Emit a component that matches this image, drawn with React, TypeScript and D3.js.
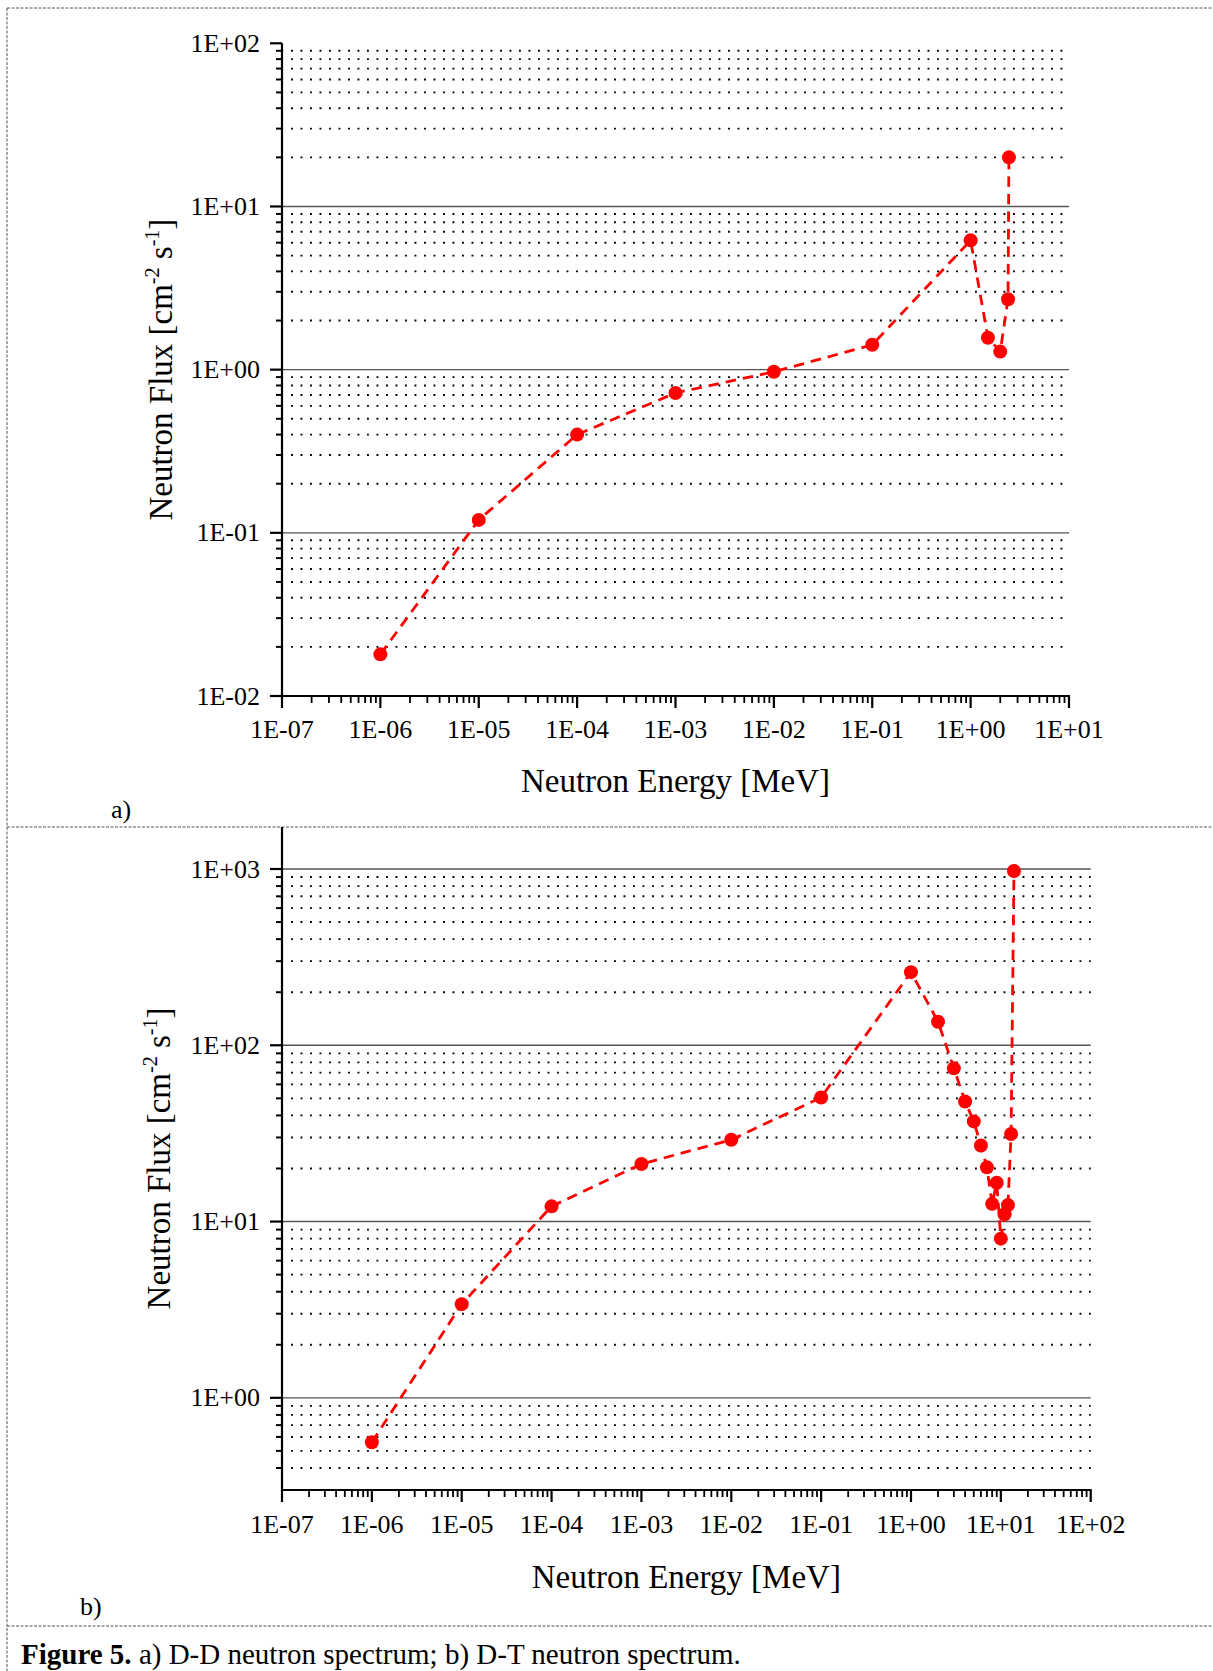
import React from "react";
import * as d3 from "d3";

// a) D-D spectrum
const ddEnergy = [1e-6, 1e-5, 1e-4, 1e-3, 1e-2, 0.1, 1, 1.5, 2, 2.4, 2.45];
const ddFlux = [0.018, 0.12, 0.4, 0.72, 0.97, 1.42, 6.2, 1.57, 1.29, 2.7, 20];
const ddXTicks = ["1E-07", "1E-06", "1E-05", "1E-04", "1E-03", "1E-02", "1E-01", "1E+00", "1E+01"];
const ddYTicks = ["1E-02", "1E-01", "1E+00", "1E+01", "1E+02"];
const ddYDomain = [0.01, 100];

// b) D-T spectrum
const dtEnergy = [1e-6, 1e-5, 1e-4, 1e-3, 1e-2, 0.1, 1, 2, 3, 4, 5, 6, 7, 8, 9, 10, 11, 12, 13, 14];
const dtFlux = [0.56, 3.4, 12.2, 21.2, 29.1, 50.6, 260, 136, 74, 48, 37, 27, 20.3, 12.6, 16.6, 8.0, 11.0, 12.4, 31.4, 975];
const dtXTicks = ["1E-07", "1E-06", "1E-05", "1E-04", "1E-03", "1E-02", "1E-01", "1E+00", "1E+01", "1E+02"];
const dtYTicks = ["1E+00", "1E+01", "1E+02", "1E+03"];
const dtYDomain = [0.3, 1000];

const FONT = "'Liberation Serif', 'Times New Roman', serif";

function minorValues(lo: number, hi: number) {
  const out: number[] = [];
  const k0 = Math.floor(Math.log10(lo));
  const k1 = Math.ceil(Math.log10(hi));
  for (let k = k0; k < k1; k++) {
    for (let m = 2; m <= 9; m++) {
      const v = m * Math.pow(10, k);
      if (v > lo * 1.0001 && v < hi * 0.9999) out.push(v);
    }
  }
  return out;
}

type PanelProps = {
  energy: number[];
  flux: number[];
  xTicks: string[];
  yTicks: string[];
  yDomain: number[];
  left: number;
  right: number;
  top: number;
  bottom: number;
  axisTop: number;
  yTitleX: number;
  xTitleY: number;
  tickLabelY: number;
  tag: string;
  tagX: number;
  tagY: number;
};

function Panel(p: PanelProps) {
  const xVals = p.xTicks.map(Number);
  const yVals = p.yTicks.map(Number);
  const x = d3.scaleLog().domain([xVals[0], xVals[xVals.length - 1]]).range([p.left, p.right]);
  const y = d3.scaleLog().domain(p.yDomain).range([p.bottom, p.top]);

  const yMinor = minorValues(p.yDomain[0], p.yDomain[1]);
  const xMinor = minorValues(xVals[0], xVals[xVals.length - 1]);
  const yMajorLines = yVals.filter((v) => y(v) > p.axisTop + 1 && v > p.yDomain[0] * 1.0001);

  const idx = d3.range(p.energy.length);
  const line = d3
    .line<number>()
    .x((i) => x(p.energy[i]))
    .y((i) => y(p.flux[i]));

  const cy = (p.axisTop + p.bottom) / 2;

  return (
    <g>
      {yMinor.map((v) => (
        <line
          key={"gm" + v}
          x1={p.left + 9}
          x2={p.right}
          y1={y(v)}
          y2={y(v)}
          stroke="#000"
          strokeWidth={1.9}
          strokeDasharray="1.9 7.6"
        />
      ))}
      {yMajorLines.map((v) => (
        <line key={"gM" + v} x1={p.left} x2={p.right} y1={y(v)} y2={y(v)} stroke="#555" strokeWidth={1.4} />
      ))}

      <line x1={p.left} x2={p.left} y1={p.axisTop} y2={p.bottom + 1} stroke="#000" strokeWidth={2.2} />
      <line x1={p.left - 1} x2={p.right + 1} y1={p.bottom} y2={p.bottom} stroke="#000" strokeWidth={2.2} />

      {yVals.map((v) => (
        <line key={"yt" + v} x1={p.left - 12} x2={p.left} y1={y(v)} y2={y(v)} stroke="#000" strokeWidth={2.2} />
      ))}
      {yMinor.map((v) => (
        <line key={"ym" + v} x1={p.left - 6} x2={p.left} y1={y(v)} y2={y(v)} stroke="#000" strokeWidth={2} />
      ))}
      {xVals.map((v) => (
        <line key={"xt" + v} x1={x(v)} x2={x(v)} y1={p.bottom} y2={p.bottom + 12} stroke="#000" strokeWidth={2.2} />
      ))}
      {xMinor.map((v) => (
        <line key={"xm" + v} x1={x(v)} x2={x(v)} y1={p.bottom} y2={p.bottom + 7} stroke="#000" strokeWidth={1.8} />
      ))}

      {p.yTicks.map((t, i) => (
        <text key={"yl" + t} x={p.left - 22} y={y(yVals[i]) + 8.5} textAnchor="end" fontSize={26}>
          {t}
        </text>
      ))}
      {p.xTicks.map((t, i) => (
        <text key={"xl" + t} x={x(xVals[i])} y={p.tickLabelY} textAnchor="middle" fontSize={26}>
          {t}
        </text>
      ))}

      <text x={(p.left + p.right) / 2} y={p.xTitleY} textAnchor="middle" fontSize={33}>
        Neutron Energy [MeV]
      </text>
      <text transform={`translate(${p.yTitleX},${cy}) rotate(-90)`} textAnchor="middle" fontSize={33}>
        Neutron Flux [cm
        <tspan fontSize={20} dy={-13}>
          -2
        </tspan>
        <tspan dy={13}> s</tspan>
        <tspan fontSize={20} dy={-13}>
          -1
        </tspan>
        <tspan dy={13}>]</tspan>
      </text>

      <path d={line(idx) || ""} fill="none" stroke="#ff0000" strokeWidth={2.8} strokeDasharray="10.5 7" />
      {idx.map((i) => (
        <circle key={"pt" + i} cx={x(p.energy[i])} cy={y(p.flux[i])} r={7} fill="#ff0000" />
      ))}

      <text x={p.tagX} y={p.tagY} fontSize={26}>
        {p.tag}
      </text>
    </g>
  );
}

export default function App() {
  const W = 1213;
  const H = 1671;
  const border = { stroke: "#555", strokeWidth: 1, strokeDasharray: "3 1.5" };
  return (
    <svg
      width={W}
      height={H}
      viewBox={`0 0 ${W} ${H}`}
      style={{ position: "absolute", left: 0, top: 0, background: "#fff" }}
      fontFamily={FONT}
    >
      <rect width={W} height={H} fill="#fff" />
      <line x1={7} x2={W} y1={8} y2={8} {...border} />
      <line x1={7} x2={7} y1={8} y2={H} {...border} />
      <line x1={7} x2={W} y1={827} y2={827} {...border} />
      <line x1={7} x2={W} y1={1626} y2={1626} {...border} />

      <Panel
        energy={ddEnergy}
        flux={ddFlux}
        xTicks={ddXTicks}
        yTicks={ddYTicks}
        yDomain={ddYDomain}
        left={282}
        right={1069}
        top={43.3}
        bottom={696}
        axisTop={43.3}
        yTitleX={172}
        xTitleY={792}
        tickLabelY={738}
        tag="a)"
        tagX={111}
        tagY={818}
      />
      <Panel
        energy={dtEnergy}
        flux={dtFlux}
        xTicks={dtXTicks}
        yTicks={dtYTicks}
        yDomain={dtYDomain}
        left={282}
        right={1090.7}
        top={869}
        bottom={1490}
        axisTop={827}
        yTitleX={170}
        xTitleY={1588}
        tickLabelY={1533}
        tag="b)"
        tagX={80}
        tagY={1615}
      />

      <text x={21} y={1664} fontSize={29}>
        <tspan fontWeight="bold">Figure 5.</tspan>
        {" a) D-D neutron spectrum; b) D-T neutron spectrum."}
      </text>
    </svg>
  );
}
